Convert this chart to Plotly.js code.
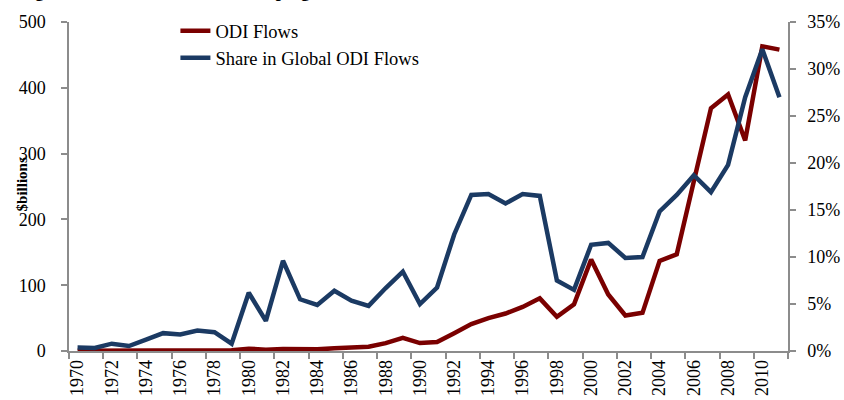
<!DOCTYPE html>
<html>
<head>
<meta charset="utf-8">
<script src="https://cdn.plot.ly/plotly-3.0.1.min.js"></script>
<style>html,body{margin:0;padding:0;background:#fff;}#chart{width:844px;height:400px;}</style>
</head>
<body>
<div id="chart"></div>
<script>
var years = [];
for (var y = 1970; y <= 2011; y++) years.push(String(y));

var odiFlows = [0.5, 0.5, 0.6, 0.6, 0.7, 0.8, 0.8, 0.9, 1.0, 1.0,
                3.5, 2.0, 3.0, 2.5, 2.5, 4.0, 5.0, 6.5, 12, 20,
                12, 13.5, 27, 41, 50, 57, 67, 80, 52, 71,
                139, 86, 54, 58, 137, 147, 258, 369, 390, 320,
                463, 458];

var globalShare = [0.36, 0.32, 0.78, 0.53, 1.2, 1.9, 1.76, 2.18, 2.0, 0.78,
                   6.2, 3.2, 9.6, 5.5, 4.9, 6.4, 5.35, 4.8, 6.7, 8.45,
                   5.0, 6.75, 12.4, 16.6, 16.7, 15.7, 16.7, 16.5, 7.5, 6.5,
                   11.3, 11.5, 9.9, 10.0, 14.85, 16.6, 18.7, 16.9, 19.8, 27.0,
                   32.1, 27.0].map(function (v) { return v / 100; });

var seriesNames = ['ODI Flows', 'Share in Global ODI Flows'];
var titleText = 'Figure 1: ODI Flows from Developing Economies';
var yTitle = '$billions';

var FONT = 'Liberation Serif, Times New Roman, serif';
var AXC = '#8c8c8c';

var traces = [
  {x: years, y: odiFlows, name: seriesNames[0], type: 'scatter', mode: 'lines',
   line: {color: '#7a0000', width: 4.5}, yaxis: 'y'},
  {x: years, y: globalShare, name: seriesNames[1], type: 'scatter', mode: 'lines',
   line: {color: '#1b3a63', width: 4.5}, yaxis: 'y2'}
];

var layout = {
  width: 844, height: 400,
  margin: {l: 69, r: 56, t: 19, b: 49},
  paper_bgcolor: '#fff', plot_bgcolor: '#fff',
  font: {family: FONT, size: 18, color: '#000'},
  showlegend: true,
  legend: {x: 0.148, y: 1.03, xanchor: 'left', yanchor: 'top',
           font: {family: FONT, size: 18.5, color: '#000'},
           bgcolor: 'rgba(0,0,0,0)', borderwidth: 0},
  xaxis: {type: 'category', range: [-0.5, 41.5], tickmode: 'linear', tick0: 0, dtick: 2,
          tickson: 'boundaries', ticks: 'outside', ticklen: 6, tickwidth: 1.5, tickcolor: AXC,
          showline: true, linecolor: AXC, linewidth: 1.5, showgrid: false, zeroline: false,
          tickangle: -90, tickfont: {family: FONT, size: 18}},
  yaxis: {range: [0, 500], dtick: 100, ticks: 'outside', ticklen: 6, tickwidth: 1.5, tickcolor: AXC,
          showline: true, linecolor: AXC, linewidth: 1.5, showgrid: false, zeroline: false,
          ticklabelstandoff: 12, tickfont: {family: FONT, size: 18}},
  yaxis2: {range: [0, 0.35], dtick: 0.05, tickformat: '.0%', overlaying: 'y', side: 'right',
           ticks: 'outside', ticklen: 6, tickwidth: 1.5, tickcolor: AXC,
           showline: true, linecolor: AXC, linewidth: 1.5, showgrid: false, zeroline: false,
           ticklabelstandoff: 8, tickfont: {family: FONT, size: 18}},
  annotations: [
    {text: yTitle, xref: 'paper', yref: 'paper', x: -0.066, y: 0.505, textangle: -90,
     showarrow: false, font: {family: FONT, size: 15, color: '#000', weight: 'bold'},
     xanchor: 'center', yanchor: 'middle'},
    {text: '<b>' + titleText + '</b>', xref: 'paper', yref: 'paper', x: -0.072, y: 1.058,
     xanchor: 'left', yanchor: 'bottom', showarrow: false,
     font: {family: FONT, size: 18, color: '#000'}}
  ]
};

Plotly.newPlot('chart', traces, layout, {displayModeBar: false, responsive: false});
</script>
</body>
</html>
